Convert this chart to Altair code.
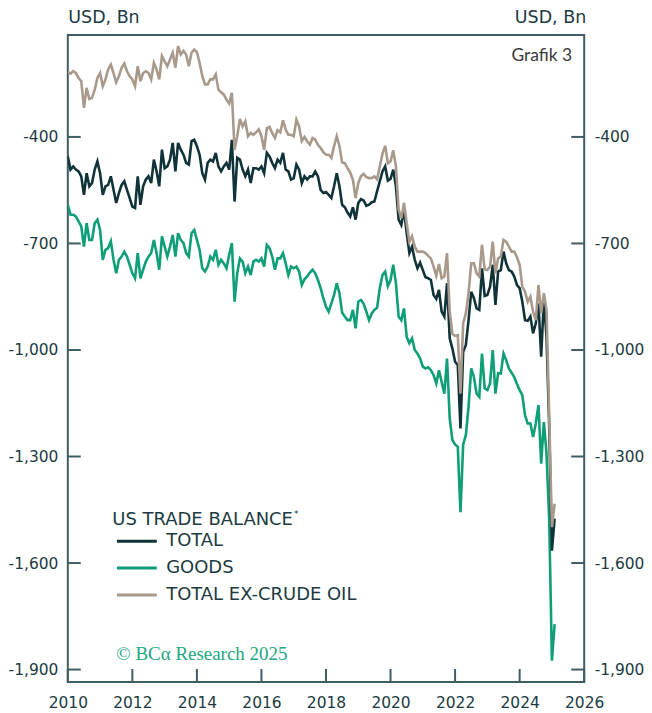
import altair as alt
import pandas as pd

# ---------------- data (annualized, USD bn, monthly from Jan 2010) ----------------
start_year = 2010
series_names = ["TOTAL", "GOODS", "TOTAL EX-CRUDE OIL"]

total = [
    -455, -492, -483, -492, -497, -511, -563, -502, -539, -530, -492, -469,
    -502, -563, -539, -535, -511, -549, -586, -558, -535, -525, -549, -572,
    -596, -600, -511, -591, -539, -520, -511, -530, -464, -497, -539, -436,
    -488, -483, -464, -417, -497, -417, -436, -450, -473, -478, -412, -408,
    -426, -450, -502, -520, -473, -464, -469, -445, -483, -497, -483, -473,
    -492, -408, -582, -459, -464, -492, -511, -492, -530, -488, -488, -492,
    -483, -502, -445, -455, -473, -488, -464, -473, -445, -492, -497, -520,
    -516, -478, -492, -530, -511, -520, -511, -511, -497, -511, -549, -558,
    -555, -563, -572, -539, -502, -539, -591, -598, -613, -624, -598, -633,
    -586, -575, -579, -594, -591, -584, -582, -553, -525, -497, -483, -523,
    -518, -492, -539, -633, -648, -605, -671, -727, -709, -746, -770, -754,
    -775, -795, -798, -803, -845, -856, -831, -892, -906, -812, -967, -996,
    -1033, -1043, -1221, -1005, -986, -916, -836, -854, -883, -887, -770, -848,
    -845, -822, -760, -873, -779, -775, -723, -756, -775, -779, -793, -817,
    -826, -864, -916, -918, -906, -953, -925, -869, -1019, -859, -963, -1217,
    -1565, -1475,
]

goods = [
    -591, -619, -619, -624, -638, -652, -709, -643, -690, -690, -643, -633,
    -662, -746, -718, -713, -694, -746, -784, -746, -737, -723, -737, -760,
    -784, -798, -727, -798, -774, -751, -737, -727, -690, -727, -774, -680,
    -709, -737, -709, -676, -737, -671, -690, -699, -727, -737, -671, -662,
    -690, -718, -770, -779, -765, -737, -746, -718, -760, -746, -756, -770,
    -732, -699, -864, -784, -742, -751, -784, -765, -789, -751, -746, -751,
    -742, -765, -704, -713, -737, -774, -742, -742, -727, -756, -789, -765,
    -770, -765, -779, -817, -801, -793, -782, -774, -784, -803, -826, -854,
    -878, -892, -869, -845, -812, -840, -895, -906, -916, -916, -887, -939,
    -864, -859, -870, -892, -916, -897, -887, -881, -826, -789, -779, -820,
    -803, -760, -812, -906, -916, -883, -963, -981, -967, -1000, -1010, -1024,
    -1047, -1052, -1049, -1057, -1071, -1094, -1057, -1090, -1123, -1024, -1193, -1254,
    -1266, -1273, -1457, -1266, -1240, -1160, -1052, -1076, -1123, -1132, -1010, -1108,
    -1113, -1094, -1000, -1123, -1066, -1066, -1010, -1029, -1052, -1064, -1076, -1096,
    -1113, -1127, -1184, -1207, -1207, -1245, -1207, -1155, -1320, -1203, -1292, -1480,
    -1875, -1772,
]

ex_crude = [
    -217, -222, -215, -220, -234, -243, -318, -262, -293, -290, -267, -234,
    -220, -257, -238, -210, -196, -220, -246, -229, -205, -193, -215, -229,
    -238, -257, -201, -243, -220, -215, -220, -238, -191, -210, -238, -172,
    -187, -201, -182, -163, -205, -144, -168, -158, -168, -201, -163, -154,
    -161, -191, -229, -252, -252, -238, -238, -224, -267, -274, -281, -295,
    -306, -276, -436, -398, -349, -370, -356, -398, -389, -394, -387, -379,
    -398, -436, -375, -372, -389, -403, -381, -387, -353, -379, -394, -394,
    -398, -351, -370, -412, -400, -412, -422, -403, -408, -422, -431, -443,
    -450, -450, -459, -426, -398, -426, -472, -474, -488, -500, -521, -572,
    -530, -511, -504, -513, -516, -516, -511, -519, -483, -447, -425, -474,
    -469, -438, -483, -605, -629, -586, -643, -695, -680, -709, -723, -723,
    -723, -727, -735, -742, -765, -791, -758, -798, -793, -727, -892, -955,
    -960, -958, -1123, -925, -897, -840, -756, -756, -784, -793, -704, -773,
    -775, -765, -695, -784, -742, -737, -690, -695, -709, -723, -723, -739,
    -760, -822, -836, -864, -850, -892, -916, -817, -897, -840, -887, -1188,
    -1499, -1433,
]

y_ticks = [-400, -700, -1000, -1300, -1600, -1900]
x_ticks = [2010, 2012, 2014, 2016, 2018, 2020, 2022, 2024, 2026]
y_domain = [-1935, -113]
x_domain = [2010, 2026]

unit_label = "USD, Bn"
chart_tag = "Grafik 3"
legend_title = "US TRADE BALANCE"
legend_mark = "*"
credit = "\u00a9 BC\u03b1 Research 2025"

# ---------------- style ----------------
W, H = 518, 649
C_TOTAL = "#10333a"
C_GOODS = "#0e9e78"
C_EXOIL = "#a8998a"
series_colors = [C_TOTAL, C_GOODS, C_EXOIL]
TEXT = "#1b3a41"
FRAME = "#3f5d64"
FONT = "DejaVu Sans"
TICK = 13
LBL = 15.5

months_x = [start_year + i / 12 for i in range(len(total))]

def frame_df(values):
    return pd.DataFrame({"x": months_x, "value": values})

xscale = alt.Scale(domain=x_domain, nice=False, zero=False)
yscale = alt.Scale(domain=y_domain, nice=False, zero=False)
label_expr = "'-' + format(abs(datum.value), ',')"

x_axis = alt.Axis(values=x_ticks, format="d", title=None, labelPadding=14,
                  labelFontSize=LBL, labelFont=FONT, labelColor=TEXT,
                  orient="bottom", labelFlush=False, labelOverlap=False)
y_axis_left = alt.Axis(values=y_ticks, title=None, labelExpr=label_expr,
                       labelPadding=10, labelFontSize=LBL, labelFont=FONT,
                       labelColor=TEXT, orient="left")
y_axis_right = alt.Axis(values=y_ticks, title=None, labelExpr=label_expr,
                        labelPadding=10, labelFontSize=LBL, labelFont=FONT,
                        labelColor=TEXT, orient="right")

def line_layer(values, color, yaxis=None):
    return alt.Chart(frame_df(values)).mark_line(
        color=color, strokeWidth=2.6, clip=True
    ).encode(
        x=alt.X("x:Q", scale=xscale, axis=x_axis),
        y=alt.Y("value:Q", scale=yscale, axis=yaxis),
    )

l_goods = line_layer(goods, C_GOODS, yaxis=y_axis_left)
l_total = line_layer(total, C_TOTAL)
l_exoil = line_layer(ex_crude, C_EXOIL, yaxis=y_axis_right)

ytick_df = pd.DataFrame({"v": y_ticks})
xtick_df = pd.DataFrame({"x": x_ticks})

yt_left = alt.Chart(ytick_df).mark_rule(color=FRAME, strokeWidth=2).encode(
    y=alt.Y("v:Q", scale=yscale, axis=None), x=alt.value(0), x2=alt.value(TICK))
yt_right = alt.Chart(ytick_df).mark_rule(color=FRAME, strokeWidth=2).encode(
    y=alt.Y("v:Q", scale=yscale, axis=None), x=alt.value(W - TICK), x2=alt.value(W))
xt = alt.Chart(xtick_df).mark_rule(color=FRAME, strokeWidth=2).encode(
    x=alt.X("x:Q", scale=xscale, axis=x_axis), y=alt.value(H - TICK), y2=alt.value(H))

def text_layer(text, x, y, size, color=TEXT, align="left", font=FONT):
    return alt.Chart(pd.DataFrame({"t": [text]})).mark_text(
        align=align, baseline="middle", fontSize=size, font=font, color=color
    ).encode(text="t:N", x=alt.value(x), y=alt.value(y))

texts = [
    text_layer(unit_label, 0.5, -17, 17.5),
    text_layer(unit_label, W + 2, -17, 17.5, align="right"),
    text_layer(chart_tag, 506, 21, 17.5, color="#3a3a3a", align="right", font="Lato"),
    text_layer(legend_title, 44.7, 486.7, 18),
    text_layer(legend_mark, 227, 480, 9),
    text_layer(credit, 48.7, 621, 19, color="#23a783", font="Liberation Serif"),
]

legend_layers = []
for i, (name, col) in enumerate(zip(series_names, series_colors)):
    yy = 507.7 + i * 27
    legend_layers.append(
        alt.Chart(pd.DataFrame({"n": [name]})).mark_rule(color=col, strokeWidth=3).encode(
            x=alt.value(49.3), x2=alt.value(89.3), y=alt.value(yy))
    )
    legend_layers.append(text_layer(name, 98.7, yy, 18))

chart = alt.layer(
    l_goods, l_total, l_exoil, yt_left, yt_right, xt, *texts, *legend_layers
).resolve_axis(y="independent").properties(
    width=W, height=H,
    autosize=alt.AutoSizeParams(type="none"),
    padding={"left": 60, "top": 26, "right": 60, "bottom": 30},
    background="white",
).configure_view(
    stroke=FRAME, strokeWidth=2
).configure_axis(
    domain=False, ticks=False, grid=False
)

chart.save("out.html", embed_options={"renderer": "svg", "actions": False})
